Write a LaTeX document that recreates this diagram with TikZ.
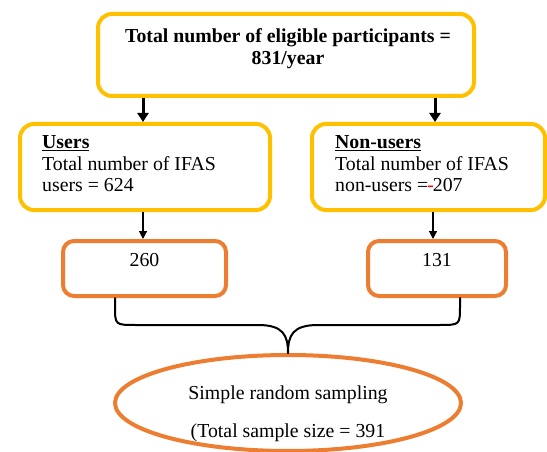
\documentclass[tikz,border=0pt]{standalone}
\usepackage{fontspec}
\setmainfont{Liberation Serif}
\usetikzlibrary{shapes.geometric,arrows.meta}
\definecolor{boxyellow}{HTML}{FFC000}
\definecolor{boxorange}{HTML}{ED7D31}
\tikzset{
  ybox/.style={draw=boxyellow,line width=4pt,rounded corners=14pt,fill=white,inner sep=0pt},
  obox/.style={draw=boxorange,line width=4pt,rounded corners=11pt,fill=white,inner sep=0pt},
  oell/.style={draw=boxorange,line width=4pt,ellipse,fill=white,inner sep=0pt},
  txt/.style={font=\fontsize{19.8}{21}\selectfont,inner sep=0pt},
  thickarr/.style={line width=3pt,-{Triangle[length=9pt,width=11pt]}},
  thinarr/.style={line width=1.2pt,-{Triangle[length=8pt,width=8pt]}},
  bracel/.style={line width=2pt,line cap=round}
}
\begin{document}
\begin{tikzpicture}[x=1pt,y=-1pt]
\useasboundingbox (0,0) rectangle (547,452);
% boxes
\node[ybox,minimum width=376pt,minimum height=82pt] (top) at (286,55) {};
\node[ybox,minimum width=250pt,minimum height=86pt] (users) at (145,167) {};
\node[ybox,minimum width=233pt,minimum height=86pt] (nonusers) at (428.5,167) {};
\node[obox,minimum width=163pt,minimum height=55pt] (b260) at (144.5,268.5) {};
\node[obox,minimum width=138pt,minimum height=55pt] (b131) at (437,268.5) {};
\node[oell,minimum width=346pt,minimum height=96pt] (ell) at (288,403) {};
% texts
\node[txt,anchor=base] (t1) at (288,42.5) {\bfseries Total number of eligible participants =};
\node[txt,anchor=base] (t2) at (288,64.5) {\bfseries 831/year};
\node[txt,anchor=base west] (u1) at (42,149) {\underline{\bfseries Users}};
\node[txt,anchor=base west] (u2) at (42,170) {Total number of IFAS};
\node[txt,anchor=base west] (u3) at (42,191) {users = 624};
\node[txt,anchor=base west] (n1) at (335,149) {\underline{\bfseries Non-users}};
\node[txt,anchor=base west] (n2) at (335,170) {Total number of IFAS};
\node[txt,anchor=base west] (n3) at (335,191) {non-users =\kern-1pt\textcolor{red}{-}\kern-1pt207};
\node[txt,anchor=base] (v260) at (144.5,266) {260};
\node[txt,anchor=base] (v131) at (437,266) {131};
\node[txt,anchor=base] (e1) at (288,399) {Simple random sampling};
\node[txt,anchor=base] (e2) at (288,437) {(Total sample size = 391};
% arrows
\draw[thickarr] (top.south -| 143,0) -- (users.north -| 143,0);
\draw[thickarr] (top.south -| 435,0) -- (nonusers.north -| 435,0);
\draw[thinarr] (users.south -| 143,0) -- (b260.north -| 143,0);
\draw[thinarr] (nonusers.south -| 433,0) -- (b131.north -| 433,0);
% brace
\coordinate (tip) at (ell.north);
\draw[bracel] (b260.south -| 115,0) -- (115,306) .. controls (115,325) .. (136,325) -- (258,325)
  .. controls (283,325) and (288,335) .. (tip);
\draw[bracel] (b131.south -| 460,0) -- (460,306) .. controls (460,325) .. (439,325) -- (318,325)
  .. controls (293,325) and (288,335) .. (tip);
\end{tikzpicture}
\end{document}
